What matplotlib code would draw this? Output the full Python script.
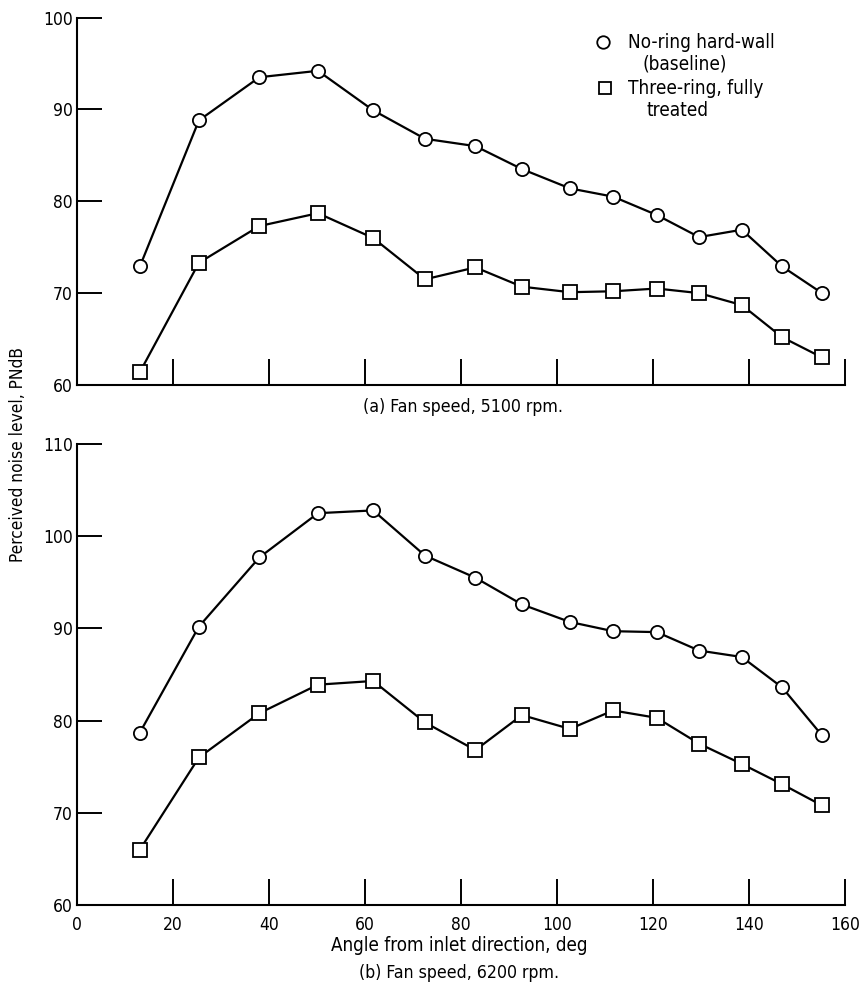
import matplotlib
matplotlib.use("Agg")
import matplotlib.pyplot as plt

plt.rcParams['font.family'] = ['DejaVu Sans']
plt.rcParams['font.stretch'] = 'condensed'

# angle from inlet direction, deg
angles = [13.1, 25.4, 38.0, 50.2, 61.7, 72.5, 83.0, 92.7, 102.7, 111.7,
          120.8, 129.6, 138.5, 146.9, 155.2]

# (a) fan speed 5100 rpm
baseline_5100 = [72.9, 88.8, 93.5, 94.2, 89.9, 86.8, 86.0, 83.5, 81.4, 80.5,
                 78.5, 76.1, 76.9, 72.9, 70.0]
treated_5100 = [61.4, 73.3, 77.3, 78.7, 76.0, 71.5, 72.8, 70.7, 70.1, 70.2,
                70.5, 70.0, 68.7, 65.2, 63.0]

# (b) fan speed 6200 rpm
baseline_6200 = [78.7, 90.2, 97.7, 102.5, 102.8, 97.9, 95.5, 92.6, 90.7, 89.7,
                 89.6, 87.6, 86.9, 83.6, 78.4]
treated_6200 = [66.0, 76.0, 80.8, 83.9, 84.3, 79.8, 76.8, 80.6, 79.1, 81.1,
                80.3, 77.5, 75.3, 73.1, 70.8]

x_ticks = [0, 20, 40, 60, 80, 100, 120, 140, 160]
y_ticks_a = [60, 70, 80, 90, 100]
y_ticks_b = [60, 70, 80, 90, 100, 110]

fig = plt.figure(figsize=(8.62, 10.01), dpi=100)
ax_a = fig.add_axes([0.0893, 0.6154, 0.8910, 0.3671])
ax_b = fig.add_axes([0.0893, 0.0959, 0.8910, 0.4605])

line_kw = dict(color='black', lw=1.6, markersize=9.5, markerfacecolor='white',
               markeredgecolor='black', markeredgewidth=1.3)


def style_axes(ax, yticks, show_xlabels):
    ax.set_xlim(0, 160)
    ax.set_ylim(yticks[0], yticks[-1])
    for side in ('top', 'right'):
        ax.spines[side].set_visible(False)
    for side in ('left', 'bottom'):
        ax.spines[side].set_linewidth(1.5)
    ax.set_yticks(yticks)
    ax.set_xticks(x_ticks)
    ax.tick_params(axis='both', direction='in', width=1.4, labelsize=12.5)
    ax.tick_params(axis='y', length=18, pad=3)
    ax.tick_params(axis='x', length=18.5, pad=8, labelbottom=show_xlabels)
    # corner tick at 0 coincides with the spine
    ax.xaxis.get_major_ticks()[0].tick1line.set_visible(False)


ax_a.plot(angles, baseline_5100, marker='o', **line_kw)
ax_a.plot(angles, treated_5100, marker='s', **line_kw)
style_axes(ax_a, y_ticks_a, False)

ax_b.plot(angles, baseline_6200, marker='o', **line_kw)
ax_b.plot(angles, treated_6200, marker='s', **line_kw)
style_axes(ax_b, y_ticks_b, True)

# key in the upper right of panel (a)
key_kw = dict(color='black', markersize=9, markerfacecolor='white',
              markeredgecolor='black', markeredgewidth=1.3,
              transform=ax_a.transAxes, clip_on=False, linestyle='none')
ax_a.plot([0.685], [0.933], marker='o', **key_kw)
ax_a.plot([0.6875], [0.808], marker='s', **key_kw)
txt_kw = dict(transform=ax_a.transAxes, fontsize=13.6, va='center', ha='left')
ax_a.text(0.717, 0.933, 'No-ring hard-wall', **txt_kw)
ax_a.text(0.736, 0.873, '(baseline)', **txt_kw)
ax_a.text(0.717, 0.808, 'Three-ring, fully', **txt_kw)
ax_a.text(0.742, 0.748, 'treated', **txt_kw)

fig.text(0.537, 0.5934, '(a) Fan speed, 5100 rpm.', ha='center', va='center',
         fontsize=12.7)
fig.text(0.533, 0.0559, 'Angle from inlet direction, deg', ha='center',
         va='center', fontsize=13.5)
fig.text(0.533, 0.028, '(b) Fan speed, 6200 rpm.', ha='center', va='center',
         fontsize=12.7)
fig.text(0.021, 0.5455, 'Perceived noise level, PNdB', rotation=90,
         ha='center', va='center', fontsize=12.4)

fig.savefig('out.png', dpi=100)
